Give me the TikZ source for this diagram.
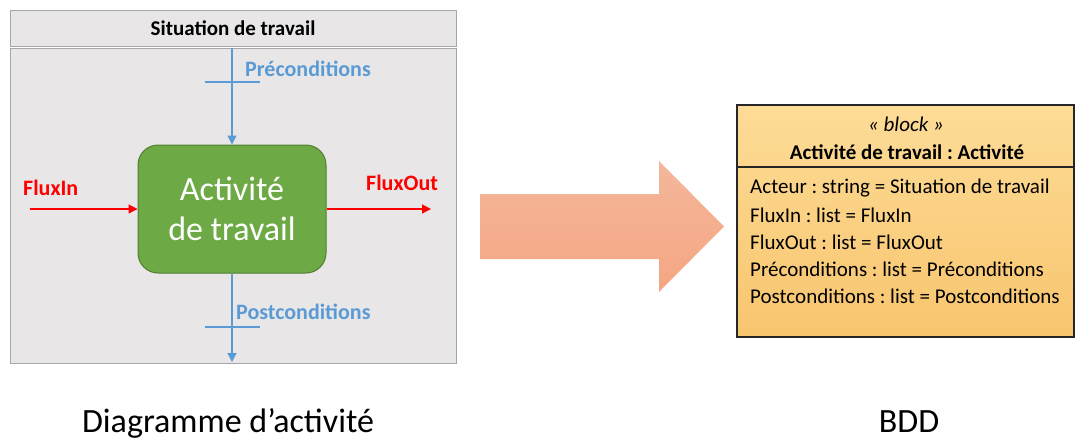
\documentclass[tikz,border=0pt]{standalone}
\usepackage{fontspec}
\setmainfont{Carlito}
\usetikzlibrary{arrows.meta}
\frenchspacing
\definecolor{fondgris}{HTML}{E8E6E7}
\definecolor{cadregris}{HTML}{A6A6A6}
\definecolor{bleuflux}{HTML}{5B9BD5}
\definecolor{vertact}{HTML}{6DAA45}
\definecolor{vertbord}{HTML}{507E32}
\definecolor{saumon}{HTML}{F4B79A}
\definecolor{saumonbas}{HTML}{F4A683}
\definecolor{blochaut}{HTML}{FDDC97}
\definecolor{blocbas}{HTML}{F8C56E}
\tikzset{
    fluxbleu/.style={draw=bleuflux,line width=1.3pt,-{Triangle[length=9pt,width=9pt]}},
    fluxrouge/.style={draw=red,line width=1.3pt,-{Triangle[length=9pt,width=9pt]}},
    activite/.style={draw=vertbord,line width=1pt,fill=vertact,rounded corners=20pt,
        minimum width=188pt,minimum height=128pt,align=center,text=white,
        font=\fontsize{34}{40}\selectfont},
    lblbleu/.style={text=bleuflux,font=\bfseries\fontsize{22}{24}\selectfont},
    lblrouge/.style={text=red,font=\bfseries\fontsize{22}{24}\selectfont},
    attribut/.style={anchor=west,font=\fontsize{21}{24}\selectfont}
}
\begin{document}
\begin{tikzpicture}[x=1pt,y=-1pt,every node/.style={inner sep=0pt}]
                \useasboundingbox (0,0) rectangle (1075,442);
                \draw[cadregris,fill=fondgris,line width=1pt] (10,10) rectangle (456,46);
                \draw[cadregris,fill=fondgris,line width=1pt] (10,48) rectangle (456,363);
                \node[font=\bfseries\fontsize{21}{24}\selectfont] (titre) at (233,28) {Situation de travail};
                \node[activite] (act) at (232,209) {Activité\\de travail};
                \coordinate (preA) at (232,48);
                \coordinate (postB) at (232,362);
                \coordinate (inA) at (30,209);
                \coordinate (outB) at (431,209);
                \draw[fluxbleu] (preA) -- (act.north);
                \draw[fluxbleu] (act.south) -- (postB);
                \draw[bleuflux,line width=1.3pt] (205,82) -- (260,82);
                \draw[bleuflux,line width=1.3pt] (205,327) -- (260,327);
                \node[lblbleu,anchor=west] (pre) at (245,69) {Préconditions};
                \node[lblbleu,anchor=west] (post) at (236,312) {Postconditions};
                \draw[fluxrouge] (inA) -- (act.west);
                \draw[fluxrouge] (act.east) -- (outB);
                \node[lblrouge,anchor=west] (fin) at (23,188) {FluxIn};
                \node[lblrouge,anchor=west] (fout) at (366,183) {FluxOut};
                \shade[top color=saumon,bottom color=saumonbas]
                    (480,194) -- (659,194) -- (659,161) -- (724,226.5) -- (659,292) -- (659,259) -- (480,259) -- cycle;
                \draw[black!85,line width=1.2pt,top color=blochaut,bottom color=blocbas] (737,105) rectangle (1074,337);
                \draw[black!85,line width=1.2pt] (737,167) -- (1074,167);
                \node[font=\itshape\fontsize{21}{24}\selectfont] (stereo) at (906,124) {« block »};
                \node[font=\bfseries\fontsize{21}{24}\selectfont] (nom) at (907,152) {Activité de travail : Activité};
                \foreach \t [count=\i] in {Acteur : string = Situation de travail,FluxIn : list = FluxIn,FluxOut : list = FluxOut,Préconditions : list = Préconditions,Postconditions : list = Postconditions}{
                    \node[attribut] (attr\i) at (750,161+27*\i) {\t};
                }
                \node[font=\fontsize{34}{38}\selectfont,anchor=base] (diag) at (228,432) {Diagramme d’activité};
                \node[font=\fontsize{34}{38}\selectfont,anchor=base] (bdd) at (909,432) {BDD};
            \end{tikzpicture}
\end{document}
